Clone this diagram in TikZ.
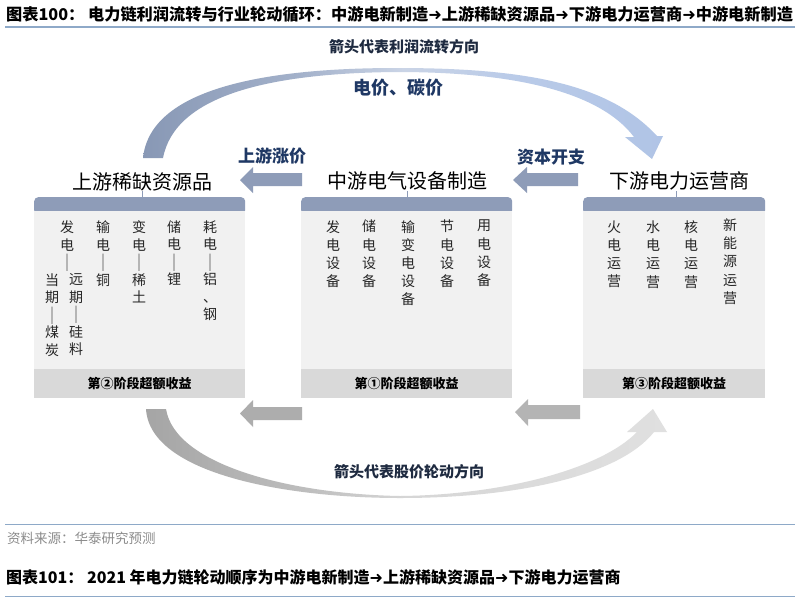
\documentclass[tikz,border=0pt]{standalone}
\usepackage{fontspec}
\setmainfont{Noto Sans CJK SC}
\newfontfamily\arrowfont{DejaVu Sans}
\newcommand{\vbarmark}{\smash{\raisebox{-2.6pt}{\scalebox{1}[1.45]{︱}}}}
\definecolor{band}{HTML}{8E9CB8}
\definecolor{bodyc}{HTML}{F1F1F1}
\definecolor{footc}{HTML}{D9D9D9}
\definecolor{navy}{HTML}{1F3864}
\definecolor{capc}{HTML}{1E2A40}
\definecolor{rulec}{HTML}{8EA9C8}
\definecolor{srcc}{HTML}{8C8C8C}
\definecolor{garrowA}{HTML}{ADADAD}
\definecolor{garrowB}{HTML}{B4B4B4}
\definecolor{tA}{HTML}{8898B5}
\definecolor{tB}{HTML}{A3B1CA}
\definecolor{tC}{HTML}{CAD4E6}
\definecolor{tD}{HTML}{BACBE8}
\definecolor{tE}{HTML}{B0C4E6}
\definecolor{bA}{HTML}{A5A5A5}
\definecolor{bB}{HTML}{BDBDBD}
\definecolor{bC}{HTML}{D6D6D6}
\definecolor{bD}{HTML}{E0E0E0}
\pgfdeclarehorizontalshading{toparc}{100bp}{color(0bp)=(tA); color(25bp)=(tA); color(40bp)=(tB); color(50bp)=(tC); color(60bp)=(tD); color(75bp)=(tE); color(100bp)=(tE)}
\pgfdeclarehorizontalshading{botarc}{100bp}{color(0bp)=(bA); color(25bp)=(bA); color(40bp)=(bB); color(50bp)=(bC); color(75bp)=(bD); color(100bp)=(bD)}
\tikzset{
  hdr/.style={fill=band, rounded corners=4pt, inner sep=0, anchor=north west, minimum height=17pt},
  bodybox/.style={fill=bodyc, inner sep=0, anchor=north west, minimum height=158pt},
  footbox/.style={fill=footc, inner sep=0, anchor=north west, minimum height=29pt, font=\bfseries\fontsize{13}{13}\selectfont},
  boxtitle/.style={font=\fontsize{20}{20}\selectfont, inner sep=0},
  vcol/.style={font=\fontsize{14}{18.2}\selectfont, align=center, anchor=north, inner sep=0, text=black!85},
  lcol/.style={font=\fontsize{14}{17.5}\selectfont, align=center, anchor=north, inner sep=0, text=black!85},
  flow/.style={font=\bfseries\fontsize{17}{17}\selectfont, text=navy, inner sep=0},
  arccap/.style={font=\bfseries\fontsize{15}{15}\selectfont, text=capc, inner sep=0},
  tickline/.style={draw=band, line width=0.8pt},
}
\begin{document}
\begin{tikzpicture}[x=1pt,y=-1pt]
\useasboundingbox[fill=white] (0,0) rectangle (800,611);

% figure titles and rules
\node[anchor=west, inner sep=0, font=\bfseries\fontsize{16.2}{16.2}\selectfont] (t1) at (6,14) {图表100： 电力链利润流转与行业轮动循环：中游电新制造{\arrowfont ➜}上游稀缺资源品{\arrowfont ➜}下游电力运营商{\arrowfont ➜}中游电新制造};
\draw[rulec, line width=1.5pt] (5,27) -- (795,27);
\draw[rulec, line width=1pt] (5,524) -- (795,524);
\node[anchor=west, inner sep=0, text=srcc, font=\fontsize{13.5}{13.5}\selectfont] (src) at (7,538) {资料来源：华泰研究预测};
\node[anchor=west, inner sep=0, font=\bfseries\fontsize{16}{16}\selectfont] (t2) at (6,577) {图表101： 2021 年电力链轮动顺序为中游电新制造{\arrowfont ➜}上游稀缺资源品{\arrowfont ➜}下游电力运营商};
\draw[rulec, line width=1pt] (5,596) -- (795,596);

% top arc (profit flow)
\shade[shading=toparc] (143,158) .. controls (150,90) and (260,68) .. (397,68) .. controls (530,68) and (610,85) .. (657,136) -- (663,136) -- (652,159) -- (625,137) -- (634,137) .. controls (600,92) and (515,72) .. (397,72) .. controls (270,73) and (175,95) .. (163,158) -- cycle;

% bottom arc (stock price rotation)
\shade[shading=botarc] (146,409) .. controls (150,475) and (290,498) .. (400,498) .. controls (520,498) and (620,475) .. (654,432) -- (667,432) -- (653,409) -- (627,432) -- (637,432) .. controls (600,470) and (500,495) .. (400,496) .. controls (290,494) and (175,465) .. (166,409) -- cycle;

\node[arccap] (capTop) at (404,47) {箭头代表利润流转方向};
\node[font=\bfseries\fontsize{18}{18}\selectfont, text=navy, inner sep=0] (price) at (398,88) {电价、碳价};
\node[arccap] (capBot) at (409,472) {箭头代表股价轮动方向};

% boxes
\node[hdr, minimum width=211pt] (Lh) at (34,197) {};
\node[bodybox, minimum width=211pt] (Lb) at (34,211) {};
\node[footbox, minimum width=211pt] (Lf) at (34,369) {第②阶段超额收益};
\node[hdr, minimum width=211pt] (Mh) at (301,197) {};
\node[bodybox, minimum width=211pt] (Mb) at (301,211) {};
\node[footbox, minimum width=211pt] (Mf) at (301,369) {第①阶段超额收益};
\node[hdr, minimum width=182pt] (Rh) at (583,197) {};
\node[bodybox, minimum width=182pt] (Rb) at (583,211) {};
\node[footbox, minimum width=182pt] (Rf) at (583,369) {第③阶段超额收益};

% box titles
\node[boxtitle] (Lt) at (142,182) {上游稀缺资源品};
\node[boxtitle] (Mt) at (407,181) {中游电气设备制造};
\node[boxtitle] (Rt) at (679,181) {下游电力运营商};
\draw[tickline] (142,191) -- (142,197);
\draw[tickline] (407,191) -- (407,197);
\draw[tickline] (676,191) -- (676,197);

% block arrows between boxes
\fill[band] (302,173) -- (253,173) -- (253,167) -- (240,180) -- (253,193) -- (253,186) -- (302,186) -- cycle;
\fill[band] (578,173) -- (527,173) -- (527,167) -- (513,180) -- (527,193) -- (527,186) -- (578,186) -- cycle;
\fill[garrowA] (302,407) -- (253,407) -- (253,400) -- (240,413.5) -- (253,427) -- (253,420) -- (302,420) -- cycle;
\fill[garrowB] (580,405) -- (528,405) -- (528,399) -- (515,412) -- (528,426) -- (528,419) -- (580,419) -- cycle;
\node[flow] (up) at (272,156) {上游涨价};
\node[flow] (capex) at (551,157) {资本开支};

% left box contents
\node[lcol] (l1) at (67,220.5) {发\\电\\\vbarmark};
\node[lcol] (l1a) at (52,273.5) {当\\期\\\vbarmark\\煤\\炭};
\node[lcol] (l1b) at (76,273.5) {远\\期\\\vbarmark\\硅\\料};
\node[lcol] (l2) at (103,220.5) {输\\电\\\vbarmark\\铜};
\node[lcol] (l3) at (139,220.5) {变\\电\\\vbarmark\\稀\\土};
\node[lcol] (l4) at (174,220.5) {储\\电\\\vbarmark\\锂};
\node[lcol] (l5) at (210,220.5) {耗\\电\\\vbarmark\\铝\\、\\钢};

% middle box contents
\node[vcol] (m1) at (333,220) {发\\电\\设\\备};
\node[vcol] (m2) at (369,220) {储\\电\\设\\备};
\node[vcol] (m3) at (408,220) {输\\变\\电\\设\\备};
\node[vcol] (m4) at (447,220) {节\\电\\设\\备};
\node[vcol] (m5) at (484,220) {用\\电\\设\\备};

% right box contents
\node[vcol] (r1) at (614,220.5) {火\\电\\运\\营};
\node[vcol] (r2) at (653,220.5) {水\\电\\运\\营};
\node[vcol] (r3) at (691,220.5) {核\\电\\运\\营};
\node[vcol] (r4) at (730,218.5) {新\\能\\源\\运\\营};
\end{tikzpicture}
\end{document}
